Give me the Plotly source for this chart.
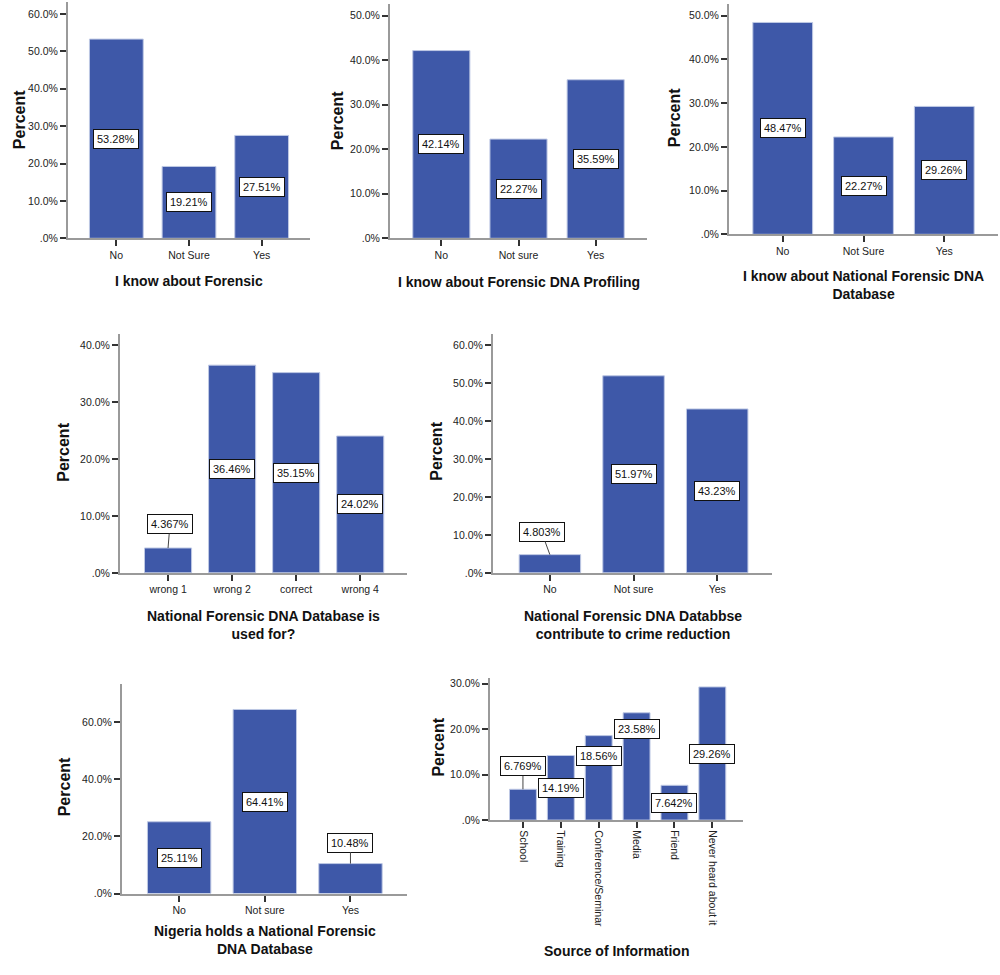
import plotly.graph_objects as go

# survey answers, percent of respondents
forensic_cats = ["No", "Not Sure", "Yes"]
forensic_pct = [53.28, 19.21, 27.51]

profiling_cats = ["No", "Not sure", "Yes"]
profiling_pct = [42.14, 22.27, 35.59]

database_cats = ["No", "Not Sure", "Yes"]
database_pct = [48.47, 22.27, 29.26]

usedfor_cats = ["wrong 1", "wrong 2", "correct", "wrong 4"]
usedfor_pct = [4.367, 36.46, 35.15, 24.02]

crime_cats = ["No", "Not sure", "Yes"]
crime_pct = [4.803, 51.97, 43.23]

nigeria_cats = ["No", "Not sure", "Yes"]
nigeria_pct = [25.11, 64.41, 10.48]

source_cats = ["School", "Training", "Conference/Seminar", "Media", "Friend",
               "Never heard about it"]
source_pct = [6.769, 14.19, 18.56, 23.58, 7.642, 29.26]

forensic_ticks = [0, 10, 20, 30, 40, 50, 60]
profiling_ticks = [0, 10, 20, 30, 40, 50]
database_ticks = [0, 10, 20, 30, 40, 50]
usedfor_ticks = [0, 10, 20, 30, 40]
crime_ticks = [0, 10, 20, 30, 40, 50, 60]
nigeria_ticks = [0, 20, 40, 60]
source_ticks = [0, 10, 20, 30]

titles = ["I know about Forensic",
          "I know about Forensic DNA Profiling",
          "I know about National Forensic DNA<br>Database",
          "National Forensic DNA Database is<br>used for?",
          "National Forensic DNA Databbse<br>contribute to crime reduction",
          "Nigeria holds a National Forensic<br>DNA Database",
          "Source of Information"]

W, H = 1000, 975
BAR = "rgb(62, 88, 168)"
FONT = "Liberation Sans, Arial, sans-serif"


def px(x):
    return x / W


def py(y):
    return 1 - y / H


# pixel boxes: left, right, top, bottom(0%), y max, x range, bar width,
# y-title centre, x-title centre
panels = [
    dict(cats=forensic_cats, vals=forensic_pct, ticks=forensic_ticks,
         box=(68, 310, 1, 239), ymax=63.2, xr=(-0.665, 2.665), bw=0.74,
         ytx=(19, 120), xty=282),
    dict(cats=profiling_cats, vals=profiling_pct, ticks=profiling_ticks,
         box=(390, 647, 3, 239), ymax=52.6, xr=(-0.665, 2.665), bw=0.74,
         ytx=(337, 121), xty=283),
    dict(cats=database_cats, vals=database_pct, ticks=database_ticks,
         box=(729, 998, 3, 235), ymax=52.7, xr=(-0.665, 2.665), bw=0.74,
         ytx=(674, 118), xty=286),
    dict(cats=usedfor_cats, vals=usedfor_pct, ticks=usedfor_ticks,
         box=(120, 407, 335, 576), ymax=42.0, xr=(-0.75, 3.73), bw=0.735,
         ytx=(64, 455), xty=629),
    dict(cats=crime_cats, vals=crime_pct, ticks=crime_ticks,
         box=(493, 772, 335, 576), ymax=63.1, xr=(-0.68, 2.655), bw=0.735,
         ytx=(437, 454), xty=629),
    dict(cats=nigeria_cats, vals=nigeria_pct, ticks=nigeria_ticks,
         box=(122, 407, 688, 899), ymax=73.3, xr=(-0.667, 2.66), bw=0.74,
         ytx=(64, 792), xty=946),
    dict(cats=source_cats, vals=source_pct, ticks=source_ticks,
         box=(490, 743, 682, 825), ymax=31.2, xr=(-0.87, 5.81), bw=0.71,
         ytx=(439, 752), xty=957, rotate=True),
]

# labels moved off the middle of the bar: panel -> {bar: (x shift, label y)}
callouts = {3: {0: (0.03, 8.55)}, 4: {0: (-0.1, 10.8)}, 5: {2: (0, 17.8)},
            6: {0: (0, 11.8)}}
shifted = {6: {2: 14.0, 3: 20.1}}

fig = go.Figure()
annotations = []
layout = {}

for k, p in enumerate(panels):
    n = "" if k == 0 else str(k + 1)
    xa, ya = "x" + n, "y" + n
    left, right, top, bottom = p["box"]
    fig.add_trace(go.Bar(
        x=list(range(len(p["cats"]))), y=p["vals"], width=p["bw"],
        marker=dict(color=BAR, line=dict(color="rgb(190, 200, 228)", width=1)),
        xaxis=xa, yaxis=ya, showlegend=False, hoverinfo="skip"))

    layout["xaxis" + n] = dict(
        domain=[px(left), px(right)], anchor=ya, range=list(p["xr"]),
        tickvals=list(range(len(p["cats"]))), ticktext=p["cats"],
        tickangle=90 if p.get("rotate") else 0,
        showline=True, linecolor="#9a9a9a", linewidth=2,
        ticks="outside", ticklen=6, tickwidth=1.5, tickcolor="#333",
        showgrid=False, zeroline=False, fixedrange=True,
        tickfont=dict(family=FONT, size=10.5, color="#222"))
    layout["yaxis" + n] = dict(
        domain=[py(bottom), py(top)], anchor=xa, range=[0, p["ymax"]],
        tickvals=p["ticks"],
        ticktext=[("%.1f%%" % v).lstrip("0") for v in p["ticks"]],
        showline=True, linecolor="#9a9a9a", linewidth=2,
        ticks="outside", ticklen=6, tickwidth=1.5, tickcolor="#333",
        showgrid=False, zeroline=False, fixedrange=True,
        tickfont=dict(family=FONT, size=10.5, color="#222"))

    annotations.append(dict(
        text="Percent", textangle=-90, x=px(p["ytx"][0]), y=py(p["ytx"][1]),
        xref="paper", yref="paper", showarrow=False,
        xanchor="center", yanchor="middle",
        font=dict(family=FONT, size=16, color="#111", weight="bold")))
    annotations.append(dict(
        text=titles[k], x=px((left + right) / 2), y=py(p["xty"]),
        xref="paper", yref="paper", showarrow=False,
        xanchor="center", yanchor="middle",
        font=dict(family=FONT, size=14, color="#111", weight="bold")))

    for i, v in enumerate(p["vals"]):
        box = dict(text="%.4g%%" % v, xref=xa, yref=ya,
                   bgcolor="white", bordercolor="#111", borderwidth=1,
                   borderpad=3, font=dict(family=FONT, size=11, color="#111"))
        if i in callouts.get(k, {}):
            dx, ly = callouts[k][i]
            box.update(x=i, y=v, ax=i + dx, ay=ly, axref=xa, ayref=ya,
                       showarrow=True, arrowhead=0, arrowwidth=1,
                       arrowcolor="#444", standoff=0)
        else:
            box.update(x=i, y=shifted.get(k, {}).get(i, v / 2), showarrow=False)
        annotations.append(box)

fig.update_layout(
    width=W, height=H, margin=dict(l=0, r=0, t=0, b=0),
    paper_bgcolor="white", plot_bgcolor="white",
    annotations=annotations, **layout)

# the page body has a default 8px margin; drop it so the figure sits at 0,0
fig.write_html("out.html", config={"displayModeBar": False},
               post_script="document.body.style.margin = '0px';")
